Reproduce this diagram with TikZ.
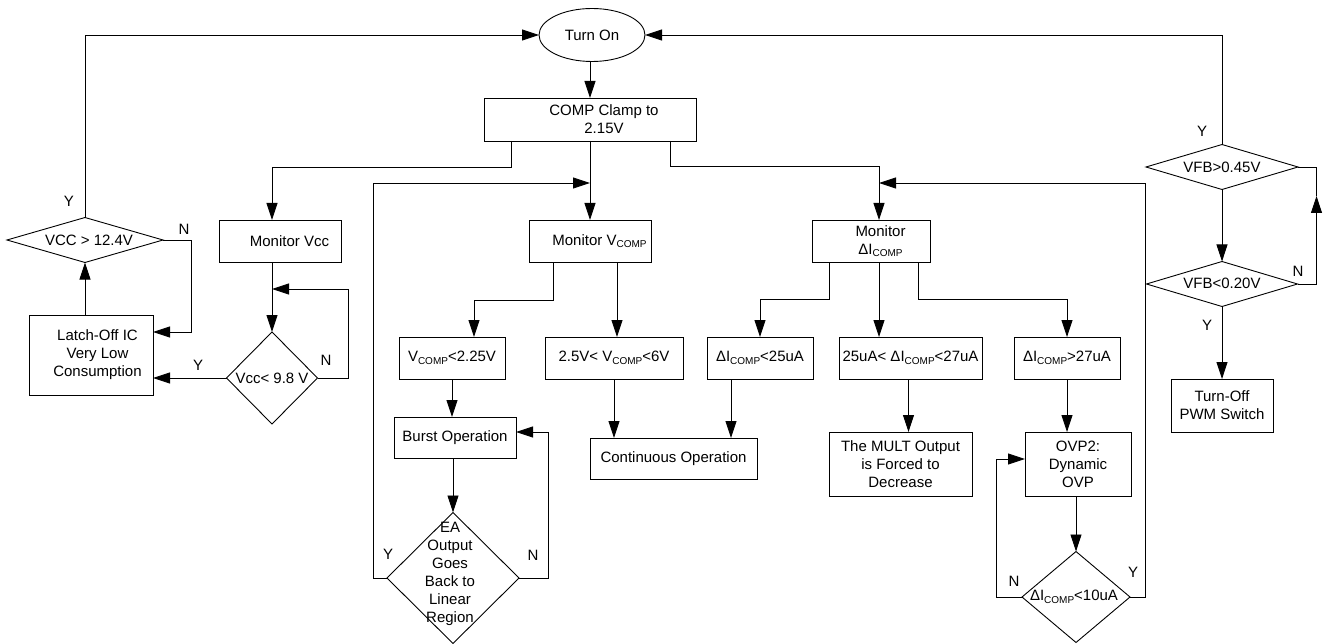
\documentclass[tikz,border=0pt]{standalone}
\usepackage{fontspec}
\setmainfont{Liberation Sans}
\usetikzlibrary{arrows.meta,shapes.geometric,calc}
\newcommand{\cmp}{\raisebox{-2.5pt}{\fontsize{10}{12}\selectfont COMP}}
\begin{document}
\begin{tikzpicture}[x=1pt,y=-1pt,
  every node/.style={font=\fontsize{15}{18}\selectfont, inner sep=0pt, outer sep=0pt},
  box/.style={draw, line width=0.9pt, align=center},
  dia/.style={draw, diamond, line width=0.9pt},
  plain/.style={line width=0.9pt},
  arr/.style={line width=0.9pt, -{Triangle[length=17pt,width=11pt]}},
  yn/.style={font=\fontsize{15}{18}\selectfont}]
\useasboundingbox (0,0) rectangle (1340,644);

% nodes
\node[draw, ellipse, line width=0.9pt, minimum width=106pt, minimum height=53pt] (on) at (592,35) {Turn On};
\node[box, minimum width=212pt, minimum height=43pt] (clamp) at (590,119.5) {\hspace*{28pt}COMP Clamp to\\\hspace*{28pt}2.15V};
\node[box, minimum width=122pt, minimum height=42pt] (mvcc) at (280,241) {\hspace*{19pt}Monitor Vcc};
\node[box, minimum width=122pt, minimum height=42pt] (mvcomp) at (590,241) {\hspace*{19pt}Monitor V\cmp};
\node[box, minimum width=118pt, minimum height=42pt] (mdi) at (871,241) {\hspace*{19pt}Monitor\\\hspace*{19pt}ΔI\cmp};
\node[dia, minimum width=156pt, minimum height=45pt, label={[xshift=4pt]center:VCC > 12.4V}] (vcc124) at (85,240) {};
\node[box, minimum width=124pt, minimum height=80pt] (latch) at (91,355) {\hspace*{13pt}Latch-Off IC\\\hspace*{13pt}Very Low\\\hspace*{13pt}Consumption};
\node[dia, minimum width=91pt, minimum height=92pt, label={center:Vcc< 9.8 V}] (vcc98) at (272,378) {};
\node[box, minimum width=106pt, minimum height=42pt] (vlt) at (452,358) {V\cmp<2.25V};
\node[box, minimum width=138pt, minimum height=42pt] (vmid) at (614,358) {2.5V< V\cmp<6V};
\node[box, minimum width=106pt, minimum height=42pt] (dlt) at (760,358) {ΔI\cmp<25uA};
\node[box, minimum width=143pt, minimum height=42pt] (dmid) at (910.5,358) {25uA< ΔI\cmp<27uA};
\node[box, minimum width=106pt, minimum height=42pt] (dgt) at (1067,358) {ΔI\cmp>27uA};
\node[box, minimum width=122pt, minimum height=41pt] (burst) at (455,437.5) {Burst Operation};
\node[box, minimum width=167pt, minimum height=41pt] (cont) at (673.5,458.5) {Continuous Operation};
\node[box, minimum width=143pt, minimum height=64pt] (mult) at (900.5,464) {The MULT Output\\is Forced to\\Decrease};
\node[box, minimum width=106pt, minimum height=64pt] (ovp) at (1078,464) {OVP2:\\Dynamic\\OVP};
\node[dia, minimum width=132pt, minimum height=131pt, label={[align=center,xshift=-3pt,yshift=4pt]center:EA\\Output\\Goes\\Back to\\Linear\\Region}] (ea) at (453,578) {};
\node[dia, minimum width=108pt, minimum height=91pt, label={[xshift=-2pt]center:ΔI\cmp<10uA}] (d10) at (1076,597) {};
\node[dia, minimum width=152pt, minimum height=45pt, label={center:VFB>0.45V}] (vfb45) at (1222,167) {};
\node[dia, minimum width=151pt, minimum height=45pt, label={[yshift=1pt]center:VFB<0.20V}] (vfb20) at (1222,284) {};
\node[box, minimum width=102pt, minimum height=53pt] (toff) at (1222,405.5) {Turn-Off\\PWM Switch};

% Y/N labels
\node[yn] (y1) at (69,201) {Y};
\node[yn] (n1) at (184,229) {N};
\node[yn] (y2) at (198,365) {Y};
\node[yn] (n2) at (326,360) {N};
\node[yn] (y3) at (388,554) {Y};
\node[yn] (n3) at (533,555) {N};
\node[yn] (n4) at (1014,581) {N};
\node[yn] (y4) at (1133,572) {Y};
\node[yn] (y5) at (1202,131) {Y};
\node[yn] (n5) at (1298,271) {N};
\node[yn] (y6) at (1207,325) {Y};

% junction coordinates
\coordinate (j1) at (590,183);
\coordinate (j2) at (879,183);
\coordinate (j3) at (272,289);

% connectors
\draw[arr] (vcc124.north) |- (on.west);
\draw[arr] (vfb45.north) |- (on.east);
\draw[arr] (clamp.north |- on.south) -- (clamp.north);
\draw[arr] ($(clamp.south west)+(27,0)$) -- ++(0,26) -| (j3 |- mvcc.north);
\draw[arr] (j3 |- mvcc.south) -- (vcc98.north);
\draw[arr] (vcc98.east) -- ++(31,0) |- (j3);
\draw[arr] (vcc98.west) -- (vcc98.west -| latch.east);
\draw[arr] (vcc124.south |- latch.north) -- (vcc124.south);
\draw[arr] (vcc124.east) -- ++(28,0) |- ($(latch.north east)+(0,17)$);
\draw[arr] (clamp.south) -- (mvcomp.north);
\draw[arr] ($(clamp.south east)+(-26,0)$) -- ++(0,25) -| (j2 |- mdi.north);

\draw[arr] ($(mvcomp.south west)+(24,0)$) -- ++(0,38) -| ($(vlt.north)+(22,0)$);
\coordinate (b2) at ($(mvcomp.south east)+(-34,0)$);
\draw[arr] (b2) -- (b2 |- vmid.north);

\draw[arr] ($(mdi.south west)+(17,0)$) -- ++(0,37) -| (dlt.north);
\draw[arr] (j2 |- mdi.south) -- (j2 |- dmid.north);
\draw[arr] ($(mdi.south east)+(-12,0)$) -- ++(0,37) -| (dgt.north);

\draw[arr] (vlt.south) -- (vlt.south |- burst.north);
\draw[arr] (ea.north |- burst.south) -- (ea.north);
\draw[arr] (ea.east) -- ++(29,0) |- ($(burst.north east)+(0,15)$);
\draw[arr] (ea.west) -- ++(-14,0) |- (j1);

\draw[arr] (vmid.south) -- (vmid.south |- cont.north);
\coordinate (b3) at ($(dlt.south)+(-29,0)$);
\draw[arr] (b3) -- (b3 |- cont.north);
\coordinate (b4) at ($(dmid.south)+(-2,0)$);
\draw[arr] (b4) -- (b4 |- mult.north);
\draw[arr] (dgt.south) -- (dgt.south |- ovp.north);
\draw[arr] (d10.north |- ovp.south) -- (d10.north);
\draw[arr] (d10.west) -- ++(-26,0) |- ($(ovp.north west)+(0,27)$);
\draw[arr] (d10.east) -- ++(15,0) |- (j2);

\draw[arr] (vfb45.south) -- (vfb20.north);
\coordinate (aN) at ($(vfb20.east)+(19,-88)$);
\draw[arr] (vfb20.east) -| (aN);
\draw[plain] (aN) |- (vfb45.east);
\draw[arr] (vfb20.south) -- (toff.north);
\end{tikzpicture}
\end{document}
